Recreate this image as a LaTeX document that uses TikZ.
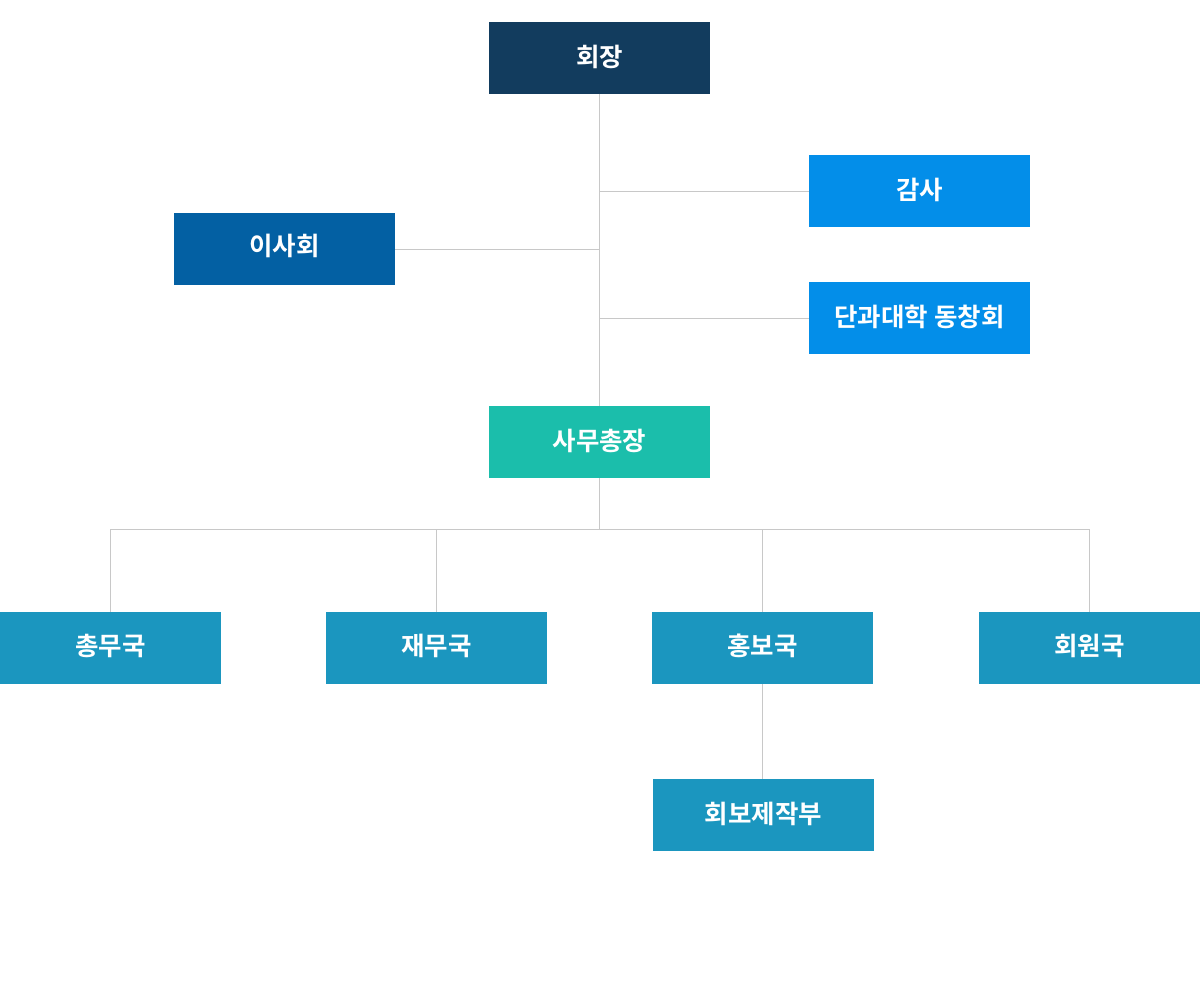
\documentclass[tikz,border=0pt]{standalone}
\usepackage{fontspec}
\newfontfamily\kr{Noto Sans CJK KR Bold}
\definecolor{cnavy}{HTML}{123C5E}
\definecolor{cblue}{HTML}{038EE9}
\definecolor{cmid}{HTML}{0360A3}
\definecolor{cteal}{HTML}{1BBEAB}
\definecolor{cdept}{HTML}{1B96BF}
\definecolor{cline}{HTML}{C8C8C8}
\newcommand{\up}[2][5pt]{\raisebox{#1}{#2}}
\begin{document}
\begin{tikzpicture}[x=1pt,y=-1pt,
  box/.style={minimum width=221pt,minimum height=72pt,inner sep=0pt,outer sep=0pt,
    text=white,font=\kr\fontsize{25.5}{30}\selectfont},
  conn/.style={draw=cline,line width=1pt}]
\useasboundingbox (0,0) rectangle (1200,1000);
\node[box,fill=cnavy] (pres) at (599.5,58) {\up{회장}};
\node[box,fill=cblue] (audit) at (919.5,191) {\up[4.5pt]{감사}};
\node[box,fill=cmid] (board) at (284.5,249) {\up[8.5pt]{이사회}};
\node[box,fill=cblue] (alum) at (919.5,318) {\up[4.5pt]{단과대학 동창회}};
\node[box,fill=cteal] (sec) at (599.5,442) {\up[4pt]{사무총장}};
\node[box,fill=cdept] (d1) at (110.5,648) {\up[6pt]{총무국}};
\node[box,fill=cdept] (d2) at (436.5,648) {\up[6pt]{재무국}};
\node[box,fill=cdept] (d3) at (762.5,648) {\up[6pt]{홍보국}};
\node[box,fill=cdept] (d4) at (1089.5,648) {\up[6pt]{회원국}};
\node[box,fill=cdept] (pub) at (763.5,815) {\up[4.5pt]{회보제작부}};
\coordinate (ja) at (599.5,191.5);
\coordinate (jb) at (599.5,249.5);
\coordinate (jc) at (599.5,318.5);
\coordinate (bus) at (599.5,529.5);
\draw[conn] (pres.south) -- (sec.north);
\draw[conn] (ja) -- (audit.west |- ja);
\draw[conn] (jb) -- (board.east |- jb);
\draw[conn] (jc) -- (alum.west |- jc);
\draw[conn] (sec.south) -- (bus);
\draw[conn] (d1.north) |- (bus);
\draw[conn] (d4.north) |- (bus);
\draw[conn] (d2.north) -- (d2.north |- bus);
\draw[conn] (d3.north) -- (d3.north |- bus);
\draw[conn] (d3.south) -- (pub.north -| d3.south);
\end{tikzpicture}
\end{document}
